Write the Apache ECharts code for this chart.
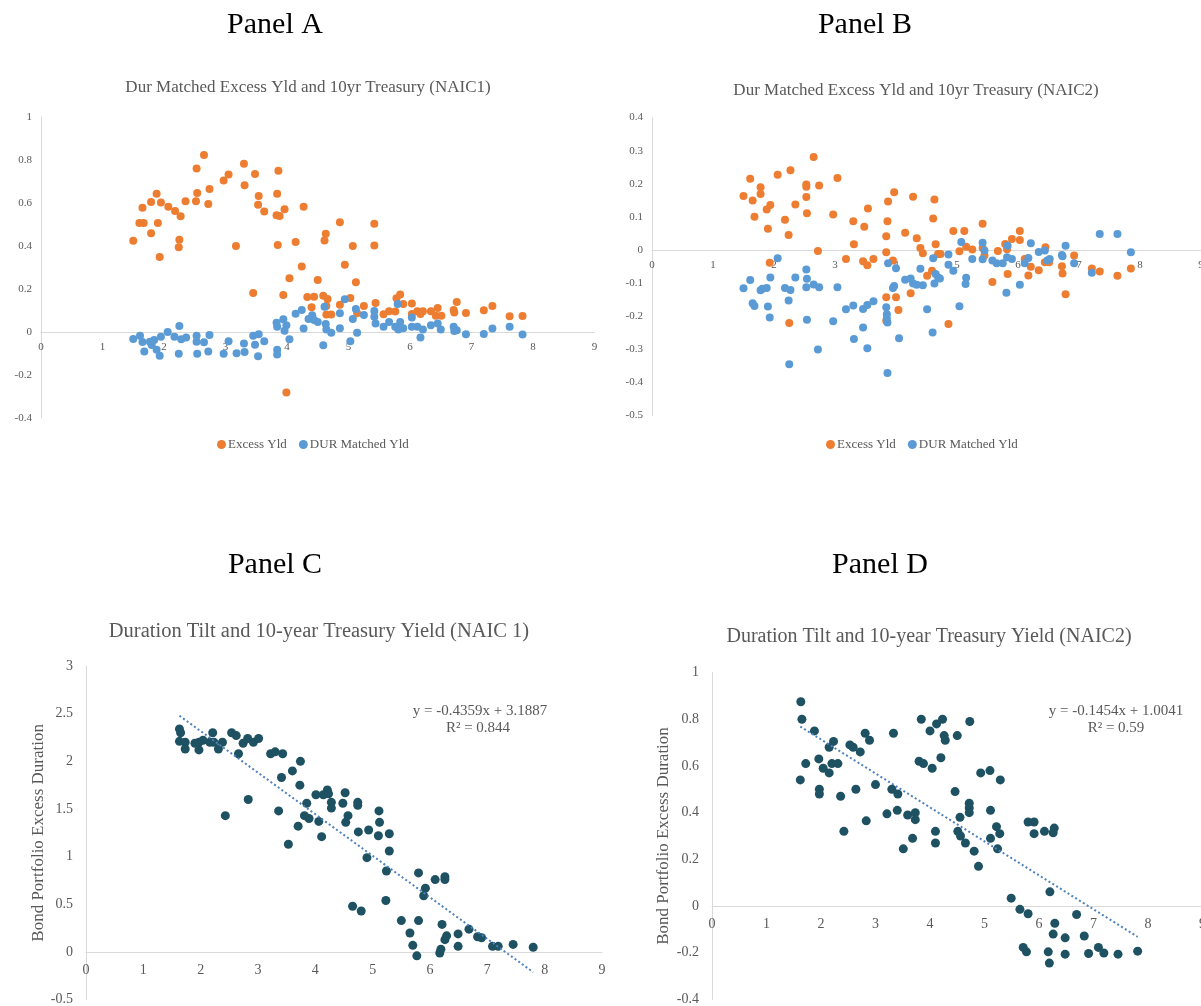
<!DOCTYPE html>
<html><head><meta charset="utf-8">
<script src="https://cdn.jsdelivr.net/npm/echarts@6/dist/echarts.min.js"></script>
<style>html,body{margin:0;padding:0;background:#fff;}#c{width:1201px;height:1006px;}</style>
</head><body><div id="c"></div>
<script>
// ---------- DATA ----------
// Panel A (NAIC1): [10yr Treasury yield, value]
const panelAExcessYld = [[1.50,0.425],[1.60,0.507],[1.67,0.507],[1.65,0.578],[1.79,0.459],[1.79,0.605],[1.88,0.643],[1.90,0.507],[1.95,0.602],[1.93,0.349],[2.07,0.583],[2.18,0.563],[2.27,0.538],[2.25,0.429],[2.24,0.394],[2.35,0.608],[2.53,0.760],[2.54,0.647],[2.52,0.608],[2.65,0.823],[2.74,0.665],[2.72,0.595],[2.97,0.705],[3.05,0.732],[3.17,0.400],[3.30,0.783],[3.31,0.682],[3.48,0.735],[3.54,0.633],[3.53,0.592],[3.63,0.561],[3.45,0.181],[3.86,0.750],[3.84,0.643],[3.83,0.543],[3.88,0.540],[3.96,0.571],[3.85,0.405],[3.94,0.172],[3.99,-0.281],[4.04,0.250],[4.14,0.419],[4.27,0.583],[4.24,0.305],[4.33,0.163],[4.44,0.164],[4.40,0.115],[4.50,0.242],[4.59,0.169],[4.66,0.153],[4.63,0.457],[4.61,0.426],[4.64,0.081],[4.72,0.081],[4.64,0.121],[4.86,0.510],[4.86,0.127],[4.94,0.313],[5.03,0.158],[5.07,0.400],[5.12,0.231],[5.14,0.087],[5.25,0.121],[5.42,0.504],[5.42,0.402],[5.44,0.135],[5.57,0.082],[5.66,0.096],[5.76,0.095],[5.78,0.157],[5.84,0.174],[5.89,0.130],[6.03,0.133],[6.03,0.084],[6.12,0.096],[6.17,0.084],[6.21,0.096],[6.34,0.096],[6.45,0.112],[6.42,0.076],[6.51,0.076],[6.71,0.102],[6.72,0.091],[6.76,0.140],[6.91,0.088],[7.20,0.101],[7.34,0.121],[7.62,0.073],[7.83,0.074]];
const panelADurMatchedYld = [[1.50,-0.033],[1.61,-0.017],[1.65,-0.047],[1.68,-0.091],[1.77,-0.045],[1.80,-0.060],[1.84,-0.037],[1.88,-0.082],[1.93,-0.110],[1.95,-0.022],[2.06,0.000],[2.17,-0.022],[2.25,0.028],[2.28,-0.034],[2.36,-0.025],[2.24,-0.101],[2.53,-0.017],[2.53,-0.045],[2.54,-0.101],[2.65,-0.048],[2.74,-0.014],[2.72,-0.091],[2.97,-0.101],[3.05,-0.043],[3.18,-0.099],[3.30,-0.054],[3.31,-0.093],[3.45,-0.017],[3.48,-0.059],[3.54,-0.011],[3.53,-0.113],[3.63,-0.043],[3.84,-0.082],[3.84,-0.105],[3.83,0.043],[3.84,0.025],[3.94,0.059],[3.96,0.006],[3.99,0.031],[4.04,-0.034],[4.14,0.085],[4.24,0.102],[4.27,0.016],[4.35,0.060],[4.41,0.078],[4.44,0.056],[4.50,0.047],[4.61,0.118],[4.59,-0.062],[4.63,0.037],[4.64,0.012],[4.72,-0.003],[4.86,0.087],[4.86,0.017],[4.94,0.152],[5.03,-0.043],[5.07,0.060],[5.12,0.107],[5.14,-0.003],[5.25,0.079],[5.42,0.098],[5.42,0.071],[5.44,0.039],[5.57,0.025],[5.66,0.047],[5.76,0.025],[5.80,0.130],[5.84,0.047],[5.81,0.012],[5.89,0.017],[6.03,0.067],[6.03,0.025],[6.12,0.025],[6.17,-0.025],[6.21,0.012],[6.34,0.031],[6.45,0.039],[6.50,0.012],[6.71,0.025],[6.72,0.005],[6.76,0.008],[6.91,-0.011],[7.20,-0.009],[7.34,0.016],[7.62,0.025],[7.83,-0.012]];

// Panel B (NAIC2)
const panelBExcessYld = [[1.50,0.163],[1.61,0.215],[1.65,0.149],[1.68,0.100],[1.78,0.189],[1.78,0.169],[1.88,0.122],[1.94,0.136],[1.90,0.064],[1.93,-0.039],[2.06,0.227],[2.18,0.091],[2.24,0.045],[2.27,0.241],[2.25,-0.221],[2.35,0.137],[2.53,0.198],[2.53,0.191],[2.53,0.160],[2.54,0.111],[2.65,0.281],[2.74,0.195],[2.72,-0.003],[2.97,0.107],[3.04,0.217],[3.18,-0.027],[3.30,0.087],[3.31,0.017],[3.46,-0.034],[3.48,0.070],[3.53,-0.046],[3.54,0.125],[3.63,-0.027],[3.87,0.146],[3.86,0.087],[3.84,0.041],[3.84,-0.007],[3.84,-0.143],[3.95,-0.032],[3.97,0.174],[4.00,-0.143],[4.04,-0.181],[3.84,-0.214],[4.15,0.052],[4.24,-0.131],[4.28,0.161],[4.34,0.035],[4.40,0.006],[4.44,-0.010],[4.51,-0.078],[4.61,0.095],[4.63,0.152],[4.65,0.017],[4.69,-0.012],[4.59,-0.063],[4.86,-0.224],[4.73,-0.012],[4.94,0.057],[5.04,-0.004],[5.12,0.057],[5.15,0.010],[5.25,0.001],[5.42,0.079],[5.42,0.006],[5.45,-0.017],[5.58,-0.097],[5.67,-0.003],[5.79,0.018],[5.82,0.002],[5.83,-0.073],[5.90,0.033],[6.03,0.057],[6.03,0.030],[6.11,-0.027],[6.21,-0.051],[6.17,-0.077],[6.34,-0.061],[6.45,0.008],[6.44,-0.037],[6.51,-0.037],[6.72,-0.049],[6.73,-0.071],[6.78,-0.134],[6.92,-0.017],[7.21,-0.056],[7.34,-0.065],[7.63,-0.078],[7.85,-0.056]];
const panelBDurMatchedYld = [[1.50,-0.116],[1.61,-0.091],[1.65,-0.161],[1.68,-0.169],[1.78,-0.122],[1.81,-0.117],[1.88,-0.115],[1.90,-0.171],[1.93,-0.204],[1.94,-0.083],[2.06,-0.025],[2.18,-0.115],[2.27,-0.121],[2.24,-0.153],[2.25,-0.345],[2.35,-0.083],[2.53,-0.059],[2.54,-0.087],[2.53,-0.113],[2.54,-0.211],[2.65,-0.104],[2.74,-0.113],[2.72,-0.301],[2.97,-0.215],[3.04,-0.113],[3.18,-0.179],[3.30,-0.168],[3.31,-0.269],[3.46,-0.178],[3.53,-0.166],[3.63,-0.155],[3.46,-0.234],[3.53,-0.297],[3.84,-0.173],[3.85,-0.194],[3.85,-0.207],[3.86,-0.219],[3.86,-0.372],[3.87,-0.040],[4.00,-0.055],[3.95,-0.115],[3.97,-0.109],[4.05,-0.267],[4.15,-0.090],[4.24,-0.086],[4.28,-0.101],[4.34,-0.105],[4.44,-0.107],[4.40,-0.057],[4.51,-0.179],[4.60,-0.249],[4.61,-0.025],[4.65,-0.073],[4.63,-0.101],[4.69,-0.083],[4.72,-0.086],[4.86,-0.014],[4.86,-0.045],[4.94,-0.063],[5.04,-0.170],[5.07,0.024],[5.14,-0.103],[5.15,-0.084],[5.25,-0.027],[5.42,0.022],[5.45,-0.002],[5.42,-0.028],[5.58,-0.032],[5.65,-0.040],[5.75,-0.040],[5.81,-0.129],[5.82,-0.022],[5.83,0.013],[5.90,-0.027],[6.03,-0.105],[6.11,-0.040],[6.17,-0.024],[6.21,0.020],[6.34,-0.006],[6.44,-0.002],[6.48,-0.032],[6.52,-0.027],[6.72,-0.015],[6.73,-0.019],[6.78,0.013],[6.92,-0.040],[7.21,-0.069],[7.34,0.048],[7.63,0.048],[7.85,-0.007]];

// Panel C (NAIC 1): [10yr yield, bond portfolio excess duration]
const panelCDuration = [[1.63,2.34],[1.65,2.30],[1.63,2.21],[1.73,2.20],[1.73,2.13],[1.90,2.19],[1.97,2.12],[1.97,2.20],[2.04,2.22],[2.16,2.20],[2.21,2.30],[2.23,2.20],[2.31,2.13],[2.38,2.20],[2.43,1.43],[2.54,2.30],[2.62,2.27],[2.66,2.08],[2.74,2.19],[2.82,2.24],[2.92,2.20],[3.01,2.24],[2.83,1.60],[3.22,2.08],[3.30,2.10],[3.43,2.08],[3.36,1.48],[3.41,1.83],[3.60,1.90],[3.74,2.00],[3.73,1.75],[3.53,1.13],[3.70,1.32],[3.85,1.56],[3.81,1.43],[3.89,1.40],[4.01,1.65],[4.06,1.37],[4.11,1.21],[4.14,1.65],[4.21,1.70],[4.23,1.66],[4.28,1.57],[4.28,1.51],[4.48,1.56],[4.52,1.67],[4.53,1.36],[4.57,1.43],[4.74,1.57],[4.74,1.54],[4.75,1.26],[4.93,1.28],[5.10,1.22],[5.11,1.48],[5.12,1.36],[5.29,1.24],[5.29,1.06],[4.90,0.99],[5.24,0.85],[4.65,0.48],[4.80,0.43],[5.23,0.54],[5.50,0.33],[5.65,0.20],[5.70,0.07],[5.77,-0.04],[5.80,0.33],[5.80,0.83],[5.92,0.67],[5.89,0.59],[6.09,0.76],[6.26,0.79],[6.26,0.76],[6.21,0.29],[6.17,-0.01],[6.19,0.03],[6.26,0.13],[6.29,0.17],[6.49,0.19],[6.49,0.06],[6.68,0.24],[6.83,0.16],[6.90,0.15],[7.09,0.06],[7.19,0.06],[7.45,0.08],[7.80,0.05]];
// Panel D (NAIC2)
const panelDDuration = [[1.63,0.875],[1.65,0.80],[1.62,0.54],[1.72,0.61],[1.88,0.75],[1.96,0.63],[2.04,0.59],[1.97,0.50],[1.97,0.48],[2.15,0.57],[2.15,0.68],[2.23,0.705],[2.20,0.61],[2.31,0.61],[2.36,0.47],[2.42,0.32],[2.53,0.69],[2.59,0.68],[2.72,0.66],[2.64,0.50],[2.81,0.74],[2.89,0.71],[2.83,0.365],[3.00,0.52],[3.33,0.74],[3.30,0.50],[3.41,0.48],[3.21,0.395],[3.40,0.41],[3.59,0.39],[3.73,0.40],[3.73,0.37],[3.51,0.245],[3.68,0.29],[3.84,0.80],[4.00,0.75],[4.12,0.78],[4.23,0.80],[4.26,0.73],[4.28,0.71],[4.50,0.73],[4.73,0.79],[3.80,0.62],[3.88,0.61],[4.04,0.59],[4.20,0.635],[4.10,0.32],[4.10,0.27],[4.46,0.49],[4.55,0.38],[4.51,0.32],[4.56,0.30],[4.65,0.27],[4.72,0.44],[4.72,0.42],[4.72,0.40],[4.81,0.235],[4.89,0.17],[4.93,0.57],[5.10,0.58],[5.29,0.54],[5.11,0.41],[5.22,0.34],[5.28,0.31],[5.11,0.29],[5.24,0.245],[5.80,0.36],[5.91,0.36],[5.91,0.31],[6.10,0.32],[6.26,0.314],[6.28,0.334],[6.20,0.061],[5.49,0.034],[5.65,-0.014],[5.80,-0.033],[5.71,-0.177],[5.77,-0.196],[6.17,-0.196],[6.19,-0.244],[6.29,-0.074],[6.26,-0.120],[6.48,-0.136],[6.48,-0.206],[6.69,-0.036],[6.83,-0.128],[6.91,-0.203],[7.09,-0.177],[7.19,-0.201],[7.45,-0.206],[7.81,-0.193]];

// Linear trendline coefficients (as printed on chart)
const trendSlope = [-0.4359, -0.1454];
const trendIntercept = [3.1887, 1.0041];
const trendLabels = [["y = -0.4359x + 3.1887", "R² = 0.844"], ["y = -0.1454x + 1.0041", "R² = 0.59"]];

const panelHeadings = ["Panel A", "Panel B", "Panel C", "Panel D"];
const chartTitles = ["Dur Matched Excess Yld and 10yr Treasury (NAIC1)", "Dur Matched Excess Yld and 10yr Treasury (NAIC2)", "Duration Tilt and 10-year Treasury Yield (NAIC 1)", "Duration Tilt and 10-year Treasury Yield (NAIC2)"];
const seriesNames = ["Excess Yld", "DUR Matched Yld"];
const yAxisName = "Bond Portfolio Excess Duration";

// ---------- CHART ----------
const FONT = '"Liberation Serif", "Times New Roman", serif';
const GRAY = '#595959';
const ORANGE = '#ED7D31', BLUE = '#5B9BD5', TEAL = '#1E5162', TREND = '#4F81BD';

// grid boxes (pixel layout)
const grids = [
  { left: 41, top: 117, width: 553.5, height: 301 },
  { left: 652, top: 117.5, width: 549, height: 298 },
  { left: 86, top: 666, width: 516, height: 333.7 },
  { left: 712, top: 672.5, width: 490.5, height: 327 }
];
const yRanges = [[-0.4, 1, 0.2], [-0.5, 0.4, 0.1], [-0.5, 3, 0.5], [-0.4, 1, 0.2]];

function trendData(pts, i) {
  const xs = pts.map(p => p[0]);
  const x0 = Math.min(...xs), x1 = Math.max(...xs);
  return [[x0, trendSlope[i] * x0 + trendIntercept[i]], [x1, trendSlope[i] * x1 + trendIntercept[i]]];
}
// x axis placed on the y = 0 line (offset from grid bottom computed from the y scale)
function xAx(g, fs, margin) {
  const r = yRanges[g];
  const zeroOffset = -grids[g].height * (0 - r[0]) / (r[1] - r[0]);
  return { type: 'value', gridIndex: g, min: 0, max: 9, interval: 1, position: 'bottom', offset: zeroOffset,
    axisLine: { show: true, onZero: false, lineStyle: { color: '#d9d9d9', width: 1 } },
    axisTick: { show: false }, splitLine: { show: false },
    axisLabel: { color: GRAY, fontFamily: FONT, fontSize: fs, margin: margin, showMinLabel: true, showMaxLabel: true } };
}
function yAx(g, fs, margin, extra) {
  const r = yRanges[g];
  return Object.assign({ type: 'value', gridIndex: g, min: r[0], max: r[1], interval: r[2],
    axisLine: { show: true, onZero: false, lineStyle: { color: '#d9d9d9', width: 1 } },
    axisTick: { show: false }, splitLine: { show: false },
    axisLabel: { color: GRAY, fontFamily: FONT, fontSize: fs, margin: margin, showMinLabel: true, showMaxLabel: true } }, extra || {});
}
function txt(x, y, text, size, color, rot) {
  return { type: 'text', x: x, y: y, rotation: rot || 0, silent: true,
    style: { text: text, fontFamily: FONT, fontSize: size, fill: color, align: 'center', verticalAlign: 'middle', textAlign: 'center', textVerticalAlign: 'middle' } };
}
const nameStyle = { color: GRAY, fontFamily: FONT, fontSize: 17 };

const option = {
  animation: false,
  backgroundColor: '#ffffff',
  grid: grids.map(g => Object.assign({ containLabel: false, outerBoundsMode: 'none' }, g)),
  xAxis: [xAx(0, 11, 10), xAx(1, 11, 10), xAx(2, 14, 11), xAx(3, 14, 11)],
  yAxis: [
    yAx(0, 11, 9),
    yAx(1, 11, 9),
    yAx(2, 14, 13, { name: yAxisName, nameLocation: 'middle', nameGap: 35, nameRotate: 90, nameTextStyle: nameStyle }),
    yAx(3, 14, 13, { name: yAxisName, nameLocation: 'middle', nameGap: 40, nameRotate: 90, nameTextStyle: nameStyle })
  ],
  legend: [
    { data: seriesNames, left: 212, top: 433, icon: 'circle', itemWidth: 9, itemHeight: 9, itemGap: 12, selectedMode: false,
      textStyle: { color: GRAY, fontFamily: FONT, fontSize: 13, padding: [0, 0, 0, -3] } },
    { data: seriesNames, left: 821, top: 433, icon: 'circle', itemWidth: 9, itemHeight: 9, itemGap: 12, selectedMode: false,
      textStyle: { color: GRAY, fontFamily: FONT, fontSize: 13, padding: [0, 0, 0, -3] } }
  ],
  series: [
    { name: seriesNames[0], type: 'scatter', xAxisIndex: 0, yAxisIndex: 0, data: panelAExcessYld, symbolSize: 8, itemStyle: { color: ORANGE, opacity: 1 } },
    { name: seriesNames[1], type: 'scatter', xAxisIndex: 0, yAxisIndex: 0, data: panelADurMatchedYld, symbolSize: 8, itemStyle: { color: BLUE, opacity: 1 } },
    { name: seriesNames[0], type: 'scatter', xAxisIndex: 1, yAxisIndex: 1, data: panelBExcessYld, symbolSize: 8, itemStyle: { color: ORANGE, opacity: 1 } },
    { name: seriesNames[1], type: 'scatter', xAxisIndex: 1, yAxisIndex: 1, data: panelBDurMatchedYld, symbolSize: 8, itemStyle: { color: BLUE, opacity: 1 } },
    { name: 'NAIC1', type: 'scatter', xAxisIndex: 2, yAxisIndex: 2, data: panelCDuration, symbolSize: 9, itemStyle: { color: TEAL, opacity: 1 } },
    { name: 'Linear (NAIC1)', type: 'line', xAxisIndex: 2, yAxisIndex: 2, data: trendData(panelCDuration, 0), symbol: 'none', z: 3,
      lineStyle: { color: TREND, width: 2, type: [2, 2.5] } },
    { name: 'NAIC2', type: 'scatter', xAxisIndex: 3, yAxisIndex: 3, data: panelDDuration, symbolSize: 9, itemStyle: { color: TEAL, opacity: 1 } },
    { name: 'Linear (NAIC2)', type: 'line', xAxisIndex: 3, yAxisIndex: 3, data: trendData(panelDDuration, 1), symbol: 'none', z: 3,
      lineStyle: { color: TREND, width: 2, type: [2, 2.5] } }
  ],
  graphic: [
    txt(275, 25, panelHeadings[0], 30, '#000'),
    txt(865, 25, panelHeadings[1], 30, '#000'),
    txt(275, 565, panelHeadings[2], 30, '#000'),
    txt(880, 565, panelHeadings[3], 30, '#000'),
    txt(308, 88, chartTitles[0], 17, GRAY),
    txt(916, 91, chartTitles[1], 17, GRAY),
    txt(319, 632, chartTitles[2], 20.5, GRAY),
    txt(929, 637, chartTitles[3], 20, GRAY),
    txt(480, 711, trendLabels[0][0], 15, GRAY),
    txt(478, 728, trendLabels[0][1], 15, GRAY),
    txt(1116, 711, trendLabels[1][0], 15, GRAY),
    txt(1116, 728, trendLabels[1][1], 15, GRAY)
  ]
};
const chart = echarts.init(document.getElementById('c'), null, { renderer: 'canvas' });
chart.setOption(option);
</script>
</body></html>
